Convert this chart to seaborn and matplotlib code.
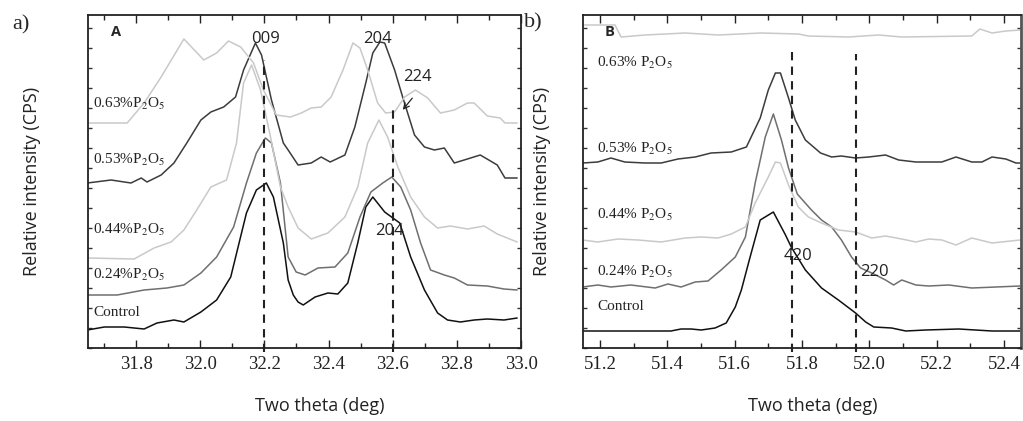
import numpy as np
import pandas as pd
import matplotlib
matplotlib.use("Agg")
import matplotlib.pyplot as plt
from matplotlib.ticker import MultipleLocator
import seaborn as sns

# ---- data (intensity in arbitrary units) ----
samples = ["Control", "0.24%", "0.44%", "0.53%", "0.63%"]

# panel A : 31.65 - 33.0 deg
a_ctrl_x = [31.648, 31.701, 31.763, 31.825, 31.865, 31.918, 31.949, 32.002, 32.051, 32.095,
            32.144, 32.175, 32.206, 32.228, 32.259, 32.274, 32.290, 32.305, 32.321, 32.358,
            32.398, 32.429, 32.460, 32.491, 32.516, 32.538, 32.575, 32.622, 32.656, 32.699,
            32.740, 32.771, 32.811, 32.854, 32.895, 32.947, 32.988]
a_ctrl_y = [18, 21, 21, 19, 25, 28, 26, 36, 48, 71,
            135, 158, 165, 151, 105, 68, 53, 46, 43, 51,
            55, 54, 65, 105, 141, 151, 136, 125, 91, 58,
            35, 28, 26, 28, 29, 28, 30]

a_024_x = [31.648, 31.741, 31.825, 31.896, 31.949, 32.002, 32.051, 32.104, 32.144, 32.175,
           32.203, 32.222, 32.250, 32.274, 32.299, 32.327, 32.367, 32.420, 32.460, 32.498,
           32.532, 32.569, 32.597, 32.625, 32.656, 32.687, 32.718, 32.761, 32.792, 32.833,
           32.895, 32.947, 32.988]
a_024_y = [53, 53, 58, 60, 63, 75, 91, 121, 165, 195,
           210, 205, 165, 91, 76, 73, 80, 81, 95, 131,
           156, 165, 171, 161, 138, 105, 78, 73, 70, 63,
           62, 59, 58]

a_044_x = [31.648, 31.794, 31.856, 31.909, 31.949, 31.989, 32.033, 32.082, 32.113, 32.135,
           32.160, 32.188, 32.219, 32.250, 32.274, 32.305, 32.346, 32.398, 32.451, 32.491,
           32.522, 32.557, 32.584, 32.616, 32.656, 32.699, 32.740, 32.780, 32.833, 32.885,
           32.926, 32.988]
a_044_y = [90, 89, 100, 106, 118, 138, 161, 168, 205, 265,
           283, 258, 211, 161, 141, 120, 109, 115, 131, 161,
           205, 228, 211, 181, 151, 131, 120, 122, 119, 122,
           114, 106]

a_053_x = [31.648, 31.722, 31.784, 31.816, 31.834, 31.878, 31.918, 31.958, 32.002, 32.033,
           32.073, 32.110, 32.135, 32.172, 32.191, 32.222, 32.259, 32.274, 32.305, 32.346,
           32.377, 32.405, 32.451, 32.482, 32.516, 32.538, 32.560, 32.575, 32.606, 32.631,
           32.668, 32.699, 32.730, 32.761, 32.792, 32.833, 32.873, 32.926, 32.950, 32.988]
a_053_y = [165, 168, 165, 170, 166, 173, 185, 205, 228, 236,
           241, 251, 278, 305, 293, 248, 205, 198, 183, 185,
           191, 186, 193, 221, 265, 295, 306, 305, 278, 251,
           213, 201, 198, 200, 185, 189, 193, 183, 170, 170]

a_063_x = [31.648, 31.772, 31.825, 31.878, 31.949, 32.011, 32.051, 32.088, 32.126, 32.166,
           32.197, 32.237, 32.281, 32.315, 32.346, 32.377, 32.408, 32.445, 32.476, 32.498,
           32.522, 32.553, 32.578, 32.606, 32.637, 32.671, 32.709, 32.749, 32.792, 32.833,
           32.854, 32.895, 32.935, 32.950, 32.988]
a_063_y = [225, 225, 245, 271, 309, 288, 295, 307, 301, 285,
           258, 233, 231, 235, 240, 241, 251, 278, 305, 300,
           278, 245, 235, 236, 251, 258, 250, 235, 238, 245,
           245, 232, 230, 225, 225]

# panel B : 51.15 - 52.45 deg
b_ctrl_x = [51.149, 51.233, 51.334, 51.411, 51.441, 51.471, 51.501, 51.542, 51.575, 51.602,
            51.620, 51.646, 51.676, 51.715, 51.751, 51.768, 51.810, 51.858, 51.908, 51.959,
            51.989, 52.013, 52.066, 52.108, 52.167, 52.265, 52.364, 52.447]
b_ctrl_y = [17, 17, 17, 17, 19, 19, 18, 20, 25, 41,
            58, 91, 128, 136, 113, 101, 78, 60, 48, 35,
            26, 21, 20, 17, 18, 19, 17, 17]

b_024_x = [51.149, 51.194, 51.233, 51.292, 51.364, 51.402, 51.441, 51.483, 51.521, 51.560,
           51.602, 51.632, 51.661, 51.691, 51.715, 51.739, 51.760, 51.786, 51.828, 51.858,
           51.888, 51.917, 51.947, 51.974, 52.007, 52.048, 52.072, 52.096, 52.138, 52.176,
           52.236, 52.304, 52.376, 52.447]
b_024_y = [61, 63, 61, 63, 60, 64, 61, 66, 67, 78,
           91, 111, 165, 211, 234, 208, 180, 154, 138, 128,
           121, 108, 91, 80, 75, 68, 63, 68, 63, 62,
           63, 60, 61, 62]

b_044_x = [51.149, 51.194, 51.254, 51.313, 51.382, 51.453, 51.501, 51.551, 51.590, 51.632,
           51.661, 51.700, 51.721, 51.736, 51.760, 51.789, 51.819, 51.858, 51.908, 51.959,
           52.007, 52.048, 52.096, 52.138, 52.176, 52.215, 52.257, 52.304, 52.364, 52.447]
b_044_y = [108, 106, 109, 108, 106, 110, 111, 110, 114, 121,
           145, 171, 186, 185, 163, 141, 131, 125, 118, 116,
           110, 112, 109, 106, 109, 108, 103, 110, 105, 108]

b_053_x = [51.149, 51.194, 51.233, 51.274, 51.334, 51.382, 51.432, 51.483, 51.530, 51.590,
           51.635, 51.676, 51.700, 51.721, 51.736, 51.760, 51.780, 51.810, 51.855, 51.888,
           51.917, 51.959, 51.998, 52.048, 52.087, 52.138, 52.215, 52.257, 52.304, 52.334,
           52.364, 52.405, 52.435, 52.447]
b_053_y = [185, 186, 190, 186, 185, 185, 189, 191, 195, 196,
           201, 230, 258, 275, 275, 250, 228, 208, 195, 191,
           192, 190, 191, 193, 188, 186, 186, 191, 186, 186,
           191, 189, 185, 185]

b_063_x = [51.149, 51.245, 51.263, 51.334, 51.453, 51.551, 51.679, 51.789, 51.819, 51.938,
           52.027, 52.096, 52.304, 52.328, 52.364, 52.405, 52.447]
b_063_y = [323, 323, 311, 313, 315, 313, 315, 314, 312, 311,
           313, 311, 312, 319, 315, 317, 318]

peaks_a = [32.2, 32.6]
peaks_a_top = [288, 241]
peaks_b = [51.77, 51.96]
peaks_b_top = [296, 294]

labels_a = ["0.63%P$_2$O$_5$", "0.53%P$_2$O$_5$", "0.44%P$_2$O$_5$", "0.24%P$_2$O$_5$", "Control"]
labels_b = ["0.63% P$_2$O$_5$", "0.53% P$_2$O$_5$", "0.44% P$_2$O$_5$", "0.24% P$_2$O$_5$", "Control"]

colors = {"Control": "#111111", "0.24%": "#6f6f6f", "0.44%": "#c9c9c9",
          "0.53%": "#3c3c3c", "0.63%": "#c9c9c9"}


def frame(xs, ys):
    parts = []
    for s, x, y in zip(samples, xs, ys):
        parts.append(pd.DataFrame({"sample": s, "theta": x, "intensity": y}))
    return pd.concat(parts, ignore_index=True)


df_a = frame([a_ctrl_x, a_024_x, a_044_x, a_053_x, a_063_x],
             [a_ctrl_y, a_024_y, a_044_y, a_053_y, a_063_y])
df_b = frame([b_ctrl_x, b_024_x, b_044_x, b_053_x, b_063_x],
             [b_ctrl_y, b_024_y, b_044_y, b_053_y, b_063_y])

sns.set_style("ticks")
plt.rcParams["mathtext.fontset"] = "stix"
plt.rcParams["xtick.direction"] = "in"
plt.rcParams["ytick.direction"] = "in"

W, H = 1023, 421
fig = plt.figure(figsize=(W / 100, H / 100), dpi=100)


def px(x, y):
    return x / W, 1 - y / H


ax_a = fig.add_axes([88 / W, (H - 348) / H, (521 - 88) / W, 333 / H])
ax_b = fig.add_axes([583 / W, (H - 348) / H, (1021 - 583) / W, 333 / H])

serif = "Liberation Serif"
sans = "Open Sans"

for ax, df, xlim, peaks, tops in [(ax_a, df_a, (31.65, 33.0), peaks_a, peaks_a_top),
                                  (ax_b, df_b, (51.15, 52.45), peaks_b, peaks_b_top)]:
    sns.lineplot(data=df, x="theta", y="intensity", hue="sample", palette=colors,
                 estimator=None, sort=False, legend=False, lw=1.1, ax=ax)
    ax.vlines(peaks, -4, tops, colors="#222222", linestyles=(0, (4, 3)), lw=1.5, clip_on=False)
    ax.set_xlim(*xlim)
    ax.set_ylim(0, 333)
    ax.xaxis.set_major_locator(MultipleLocator(0.2))
    ax.xaxis.set_minor_locator(MultipleLocator(0.1))
    ax.yaxis.set_major_locator(MultipleLocator(20))
    ax.tick_params(axis="x", which="both", top=True, bottom=True, labelsize=13.5,
                   colors="#222222", pad=6)
    ax.tick_params(axis="x", which="major", length=6, width=1)
    ax.tick_params(axis="x", which="minor", length=3.5, width=1)
    ax.tick_params(axis="y", which="major", left=True, right=True, labelleft=False,
                   length=3, width=1, colors="#333333")
    for lab in ax.get_xticklabels():
        lab.set_fontfamily(serif)
    for sp in ax.spines.values():
        sp.set_visible(True)
        sp.set_linewidth(1.3)
        sp.set_color("#222222")
    ax.set_xlabel("")
    ax.set_ylabel("")

ax_b.spines["right"].set_color("#555555")
ax_b.spines["right"].set_linewidth(2)

# axis titles
for cx in [320, 813]:
    fig.text(*px(cx, 406), "Two theta (deg)", ha="center", va="center",
             family=sans, fontsize=13, color="#222222")
for cx in [32, 542]:
    fig.text(*px(cx, 181), "Relative intensity (CPS)", ha="center", va="center",
             rotation=90, family=sans, fontsize=13, color="#222222")

# panel tags
fig.text(*px(21, 25), "a)", ha="center", va="center", family=serif, fontsize=16)
fig.text(*px(533, 23), "b)", ha="center", va="center", family=serif, fontsize=16)
fig.text(*px(116, 32), "A", ha="center", va="center", family=sans, fontsize=10.5,
         fontweight="bold")
fig.text(*px(610, 32), "B", ha="center", va="center", family=sans, fontsize=10.5,
         fontweight="bold")

# sample labels
for lab, y in zip(labels_a, [104, 160, 230, 275, 313]):
    fig.text(*px(93, y), lab, ha="left", va="center", family=serif, fontsize=11,
             color="#222222")
for lab, y in zip(labels_b, [63, 149, 215, 272, 307]):
    fig.text(*px(597, y), lab, ha="left", va="center", family=serif, fontsize=11,
             color="#222222")

# reflection labels
for txt, x, y in [("009", 266, 39), ("204", 377, 39), ("224", 417, 77), ("204", 389, 231),
                  ("420", 798, 256), ("220", 874, 272)]:
    fig.text(*px(x, y), txt, ha="center", va="center", family=sans, fontsize=12,
             color="#222222")

ax_a.annotate("", xy=px(401, 112), xytext=px(414, 96), xycoords="figure fraction",
              textcoords="figure fraction",
              arrowprops=dict(arrowstyle="->", lw=0.9, color="#222222"))

fig.savefig("out.png", dpi=100)
